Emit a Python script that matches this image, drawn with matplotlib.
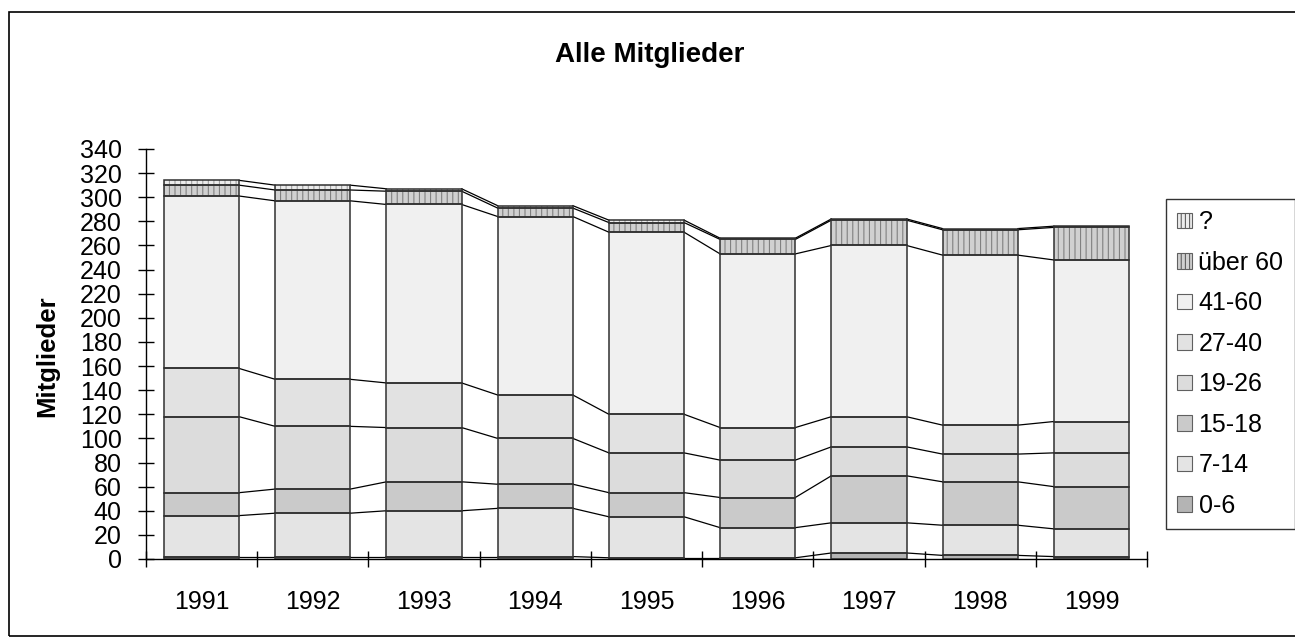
import numpy as np
import matplotlib
matplotlib.use("Agg")
import matplotlib.pyplot as plt
from matplotlib.patches import Rectangle, Patch

plt.rcParams['font.family'] = ['Liberation Sans', 'DejaVu Sans']

years = ["1991", "1992", "1993", "1994", "1995", "1996", "1997", "1998", "1999"]
groups = ["0-6", "7-14", "15-18", "19-26", "27-40", "41-60", "über 60", "?"]

# Mitglieder je Altersgruppe
g_0_6 = [2, 2, 2, 2, 1, 1, 5, 3, 2]
g_7_14 = [34, 36, 38, 40, 34, 25, 25, 25, 23]
g_15_18 = [19, 20, 24, 20, 20, 25, 39, 36, 35]
g_19_26 = [63, 52, 45, 38, 33, 31, 24, 23, 28]
g_27_40 = [40, 39, 37, 36, 32, 27, 25, 24, 26]
g_41_60 = [143, 148, 148, 148, 151, 144, 142, 141, 134]
g_ueber_60 = [9, 9, 11, 7, 8, 12, 21, 21, 27]
g_unbekannt = [4, 4, 2, 2, 2, 1, 1, 1, 1]

series = [g_0_6, g_7_14, g_15_18, g_19_26, g_27_40, g_41_60, g_ueber_60, g_unbekannt]
faces = ['#b4b4b4', '#e4e4e4', '#cacaca', '#dcdcdc', '#e2e2e2', '#f0f0f0', '#d0d0d0', '#ececec']
hatches = [None, None, None, None, None, None, '|||', '|||']
hatch_cols = ['#b4b4b4', '#e4e4e4', '#cacaca', '#dcdcdc', '#e2e2e2', '#f0f0f0', '#808080', '#a0a0a0']

fig = plt.figure(figsize=(12.95, 6.39), dpi=100)
ax = fig.add_axes([146 / 1295, 1 - 559 / 639, 1001 / 1295, 410 / 639])

x = np.arange(len(years))
w = 0.676
bottom = np.zeros(len(years))
tops = []
plt.rcParams['hatch.linewidth'] = 0.8
for vals, fc, h, hc in zip(series, faces, hatches, hatch_cols):
    vals = np.array(vals, dtype=float)
    if h:
        ax.bar(x, vals, w, bottom=bottom, color=fc, edgecolor=hc, hatch=h, linewidth=0, zorder=2)
    else:
        ax.bar(x, vals, w, bottom=bottom, color=fc, linewidth=0, zorder=2)
    ax.bar(x, vals, w, bottom=bottom, fill=False, edgecolor='#303030', linewidth=1.1, zorder=3)
    bottom = bottom + vals
    tops.append(bottom.copy())

# Reihenverbindungslinien
for t in tops:
    for i in range(len(years) - 1):
        ax.plot([x[i] + w / 2, x[i + 1] - w / 2], [t[i], t[i + 1]], color='black', lw=0.9, zorder=1)

ax.set_xlim(-0.5, len(years) - 0.5)
ax.set_ylim(0, 340)
ax.set_yticks(np.arange(0, 341, 20))
ax.set_xticks(x)
ax.set_xticklabels(years)
ax.set_xticks(np.arange(-0.5, len(years), 1), minor=True)
ax.tick_params(axis='x', which='major', length=0, pad=22, labelsize=18)
ax.tick_params(axis='x', which='minor', direction='inout', length=12, width=1)
ax.tick_params(axis='y', direction='inout', length=11, width=1, pad=12, labelsize=18)
for s in ['top', 'right']:
    ax.spines[s].set_visible(False)
ax.spines['left'].set_linewidth(1)
ax.spines['bottom'].set_linewidth(1)

fig.text(0.502, 1 - 55 / 639, "Alle Mitglieder", ha='center', va='center', fontsize=20, fontweight='bold')
fig.text(47 / 1295, 1 - 356 / 639, "Mitglieder", ha='center', va='center', rotation=90, fontsize=18.5, fontweight='bold')

handles = []
for fc, h in zip(faces, hatches):
    if h:
        handles.append(Patch(facecolor=fc, edgecolor='#606060', hatch='||||', linewidth=0.8))
    else:
        handles.append(Patch(facecolor=fc, edgecolor='#606060', linewidth=0.8))
leg = fig.legend(handles[::-1], groups[::-1], loc='upper left',
                 bbox_to_anchor=(1166 / 1295, 1 - 199 / 639), bbox_transform=fig.transFigure,
                 fontsize=18, frameon=True, fancybox=False, borderaxespad=0,
                 handlelength=0.6, handleheight=0.6, handletextpad=0.25,
                 labelspacing=0.66, borderpad=0.45)
leg.get_frame().set_edgecolor('black')
leg.get_frame().set_linewidth(1)

fig.patches.append(Rectangle((9 / 1295, 3 / 639), 1.0, 1 - 15 / 639, transform=fig.transFigure,
                             fill=False, edgecolor='black', linewidth=1.2))

fig.savefig("out.png", dpi=100)
